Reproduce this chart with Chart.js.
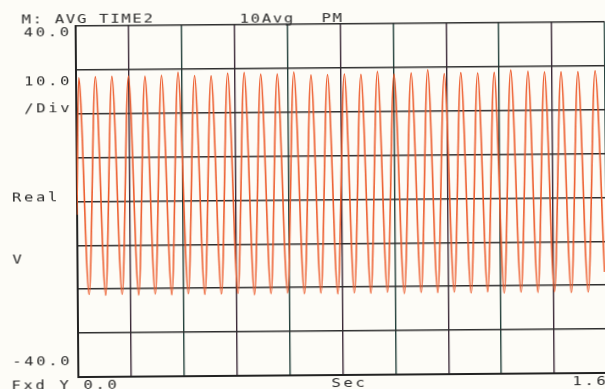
<!DOCTYPE html>
<html>
<head>
<meta charset="utf-8">
<script src="https://cdn.jsdelivr.net/npm/chart.js@4"></script>
<style>
  html, body { margin: 0; padding: 0; background: #fdfcf7; overflow: hidden; }
  #wrap {
    position: absolute; left: 0; top: 0; width: 607px; height: 389px;
    transform: rotate(-0.45deg); transform-origin: 341px 200px;
  }
  #chart { position: absolute; left: 0; top: 0; width: 607px; height: 389px; }
  .lbl {
    position: absolute; white-space: pre;
    font-family: "DejaVu Sans Mono", monospace; font-size: 12px; line-height: 12px;
    color: #2c2c2c; letter-spacing: 2px;
    transform: scaleX(1.3); transform-origin: 0 0;
  }
  .hdr { letter-spacing: 1.3px; }
</style>
</head>
<body>
<div id="wrap">
  <canvas id="chart" width="607" height="389"></canvas>
  <div class="lbl hdr" style="left:23px;top:11px">M: AVG TIME2</div>
  <div class="lbl hdr" style="left:241px;top:12px">10Avg</div>
  <div class="lbl hdr" style="left:323px;top:12px">PM</div>
  <div class="lbl" style="left:25px;top:24px">40.0</div>
  <div class="lbl" style="left:25px;top:73px">10.0</div>
  <div class="lbl" style="left:25px;top:100px">/Div</div>
  <div class="lbl" style="left:12px;top:189px">Real</div>
  <div class="lbl" style="left:12px;top:251px">V</div>
  <div class="lbl" style="left:11px;top:353px">-40.0</div>
  <div class="lbl" style="left:10px;top:377px">Fxd Y 0.0</div>
  <div class="lbl" style="left:330px;top:377px">Sec</div>
  <div class="lbl" style="left:571px;top:377px">1.6</div>
</div>
<script>
// grid ticks: 10 divisions across, 10 V/div up the side
const xTicks = [0, 0.16, 0.32, 0.48, 0.64, 0.8, 0.96, 1.12, 1.28, 1.44, 1.6];
const yTicks = [-40, -30, -20, -10, 0, 10, 20, 30, 40];

// trace: start, then peak / trough pairs, then end
const traceTimes = [
  0,
  0.009, 0.035, 0.059, 0.085, 0.109, 0.135, 0.159, 0.185, 0.209, 0.235,
  0.259, 0.285, 0.309, 0.335, 0.359, 0.385, 0.409, 0.435, 0.459, 0.485,
  0.509, 0.535, 0.559, 0.585, 0.609, 0.635, 0.659, 0.686, 0.711, 0.736,
  0.761, 0.787, 0.812, 0.837, 0.862, 0.887, 0.912, 0.937, 0.962, 0.988,
  1.014, 1.039, 1.064, 1.089, 1.114, 1.139, 1.164, 1.190, 1.215, 1.240,
  1.265, 1.290, 1.315, 1.341, 1.367, 1.392, 1.417, 1.442, 1.467, 1.493,
  1.518, 1.544, 1.570,
  1.594
];
const traceValues = [
  -3,
  28.2, -21.2, 28.4, -21.4, 28.5, -21.2, 28.5, -21.4, 28.4, -21.2,
  28.6, -21.4, 29.3, -21.2, 28.5, -21.4, 28.4, -21.3, 29.0, -21.2,
  29.1, -21.5, 28.7, -21.3, 28.7, -21.2, 29.1, -21.4, 28.4, -21.3,
  28.5, -21.5, 28.6, -21.3, 28.5, -21.4, 29.1, -21.2, 28.5, -21.5,
  28.7, -21.3, 29.4, -21.4, 28.5, -21.3, 28.7, -21.5, 28.6, -21.3,
  28.7, -21.6, 29.2, -21.4, 28.9, -21.5, 28.7, -21.4, 28.7, -21.6,
  28.7, -21.5, 28.9,
  -17
];

const points = traceTimes.map((t, i) => ({ x: t, y: traceValues[i] }));

const ctx = document.getElementById('chart').getContext('2d');
new Chart(ctx, {
    type: 'line',
    data: {
        datasets: [{
            data: points,
            borderColor: '#ec5b2b',
            borderWidth: 1.6,
            pointRadius: 0,
            fill: false,
            cubicInterpolationMode: 'monotone'
        }]
    },
    options: {
        responsive: false,
        animation: false,
        events: [],
        layout: {
            padding: { left: 76.8, top: 24, right: 1, bottom: 14 }
        },
        plugins: {
            legend: { display: false },
            tooltip: { enabled: false }
        },
        scales: {
            x: {
                type: 'linear',
                min: 0,
                max: 1.6,
                afterBuildTicks: (scale) => {
                    scale.ticks = xTicks.map(v => ({ value: v }));
                },
                ticks: { display: false },
                grid: {
                    drawTicks: false,
                    lineWidth: 1.4,
                    color: (c) => c.index % 2 ? '#3b2a38' : '#23403b'
                },
                border: { display: true, color: '#222', width: 2 }
            },
            y: {
                type: 'linear',
                min: -40,
                max: 40,
                afterBuildTicks: (scale) => {
                    scale.ticks = yTicks.map(v => ({ value: v }));
                },
                ticks: { display: false },
                grid: {
                    drawTicks: false,
                    lineWidth: 1.6,
                    color: '#2e2e2e'
                },
                border: { display: true, color: '#222', width: 2 }
            }
        }
    }
});
</script>
</body>
</html>
